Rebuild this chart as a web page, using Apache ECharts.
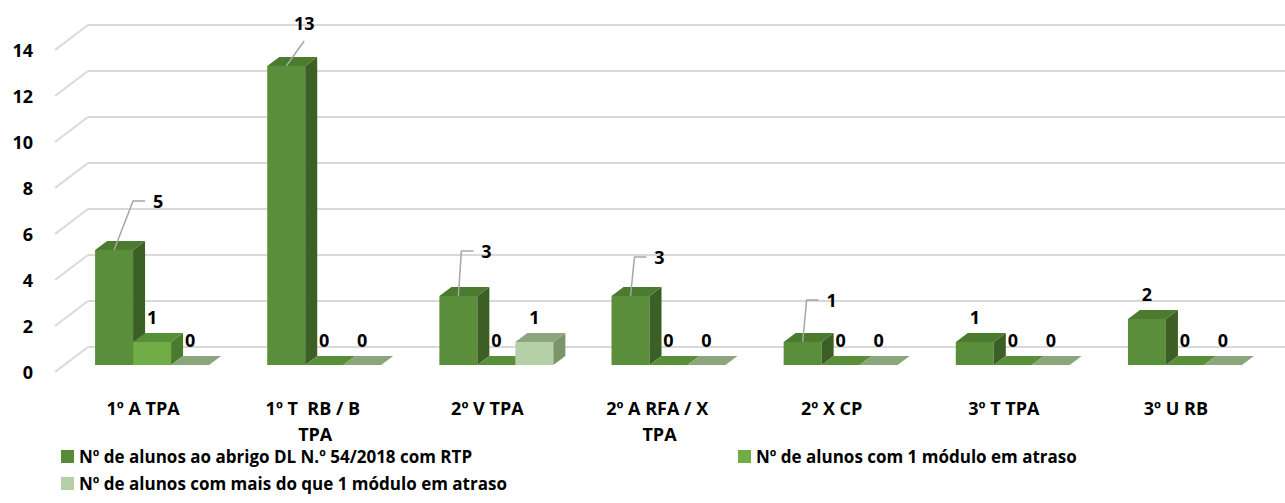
<!DOCTYPE html>
<html>
<head>
<meta charset="utf-8">
<script src="https://cdn.jsdelivr.net/npm/echarts@6/dist/echarts.min.js"></script>
<style>
  html, body { margin: 0; padding: 0; background: #fff; }
  #chart { width: 1285px; height: 503px; }
</style>
</head>
<body>
<div id="chart"></div>
<script>
const categories = ['1º A TPA', '1º T  RB / B TPA', '2º V TPA', '2º A RFA / X TPA', '2º X CP', '3º T TPA', '3º U RB'];
const rtpCounts = [5, 13, 3, 3, 1, 1, 2];
const oneModuleCounts = [1, 0, 0, 0, 0, 0, 0];
const moreModulesCounts = [0, 0, 1, 0, 0, 0, 0];
const yTicks = [0, 2, 4, 6, 8, 10, 12, 14];
const seriesNames = [
  'Nº de alunos ao abrigo DL N.º 54/2018 com RTP',
  'Nº de alunos com 1 módulo em atraso',
  'Nº de alunos com mais do que 1 módulo em atraso'
];

const FONT = '"Open Sans", Lato, sans-serif';
const faces = [
  { front: '#5b8e3a', side: '#3b5f24', top: '#4b7b2f', legend: '#578b38' },
  { front: '#70ad47', side: '#4a7a2e', top: '#5a8f3a', legend: '#70ad47' },
  { front: '#b5cfa6', side: '#7b9468', top: '#8ba67c', legend: '#b5cfa6' }
];
// labels that Excel pushed aside with a leader line (first series only)
const leaders = {
  0: { dx: 44, dy: -49, elbow: true },
  1: { dx: 18, dy: -43, elbow: false },
  2: { dx: 28, dy: -45, elbow: true },
  3: { dx: 29, dy: -39, elbow: true },
  4: { dx: 29, dy: -42, elbow: true }
};
const DX = 12, DY = -9;   // bar depth

const chart = echarts.init(document.getElementById('chart'), null, { renderer: 'svg' });

function barRenderer(si) {
  return function (params, api) {
    const cat = api.value(0), val = api.value(1);
    const top = api.coord([cat, val]);
    const base = api.coord([cat, 0]);
    const w = api.size([1, 0])[0] * 0.2207;
    const x0 = top[0] - 1.5 * w + si * w;
    const x1 = x0 + w;
    const yt = top[1], yb = base[1];
    const f = faces[si];
    const children = [];
    if (yb - yt > 0.5) {
      children.push({ type: 'rect', shape: { x: x0, y: yt, width: w, height: yb - yt }, style: { fill: f.front } });
      children.push({ type: 'polygon', shape: { points: [[x1, yt], [x1 + DX, yt + DY], [x1 + DX, yb + DY], [x1, yb]] }, style: { fill: f.side } });
    }
    children.push({ type: 'polygon', shape: { points: [[x0, yt], [x0 + DX, yt + DY], [x1 + DX, yt + DY], [x1, yt]] }, style: { fill: f.top } });

    const cx = x0 + w / 2;
    let lx = cx, ly = yt + DY - 16;
    const lead = si === 0 ? leaders[cat] : null;
    if (lead) {
      lx = cx + lead.dx;
      ly = yt + lead.dy;
      const pts = lead.elbow ? [[cx, yt], [lx - 25, ly], [lx - 13, ly]] : [[cx, yt], [lx, ly + 18]];
      children.push({ type: 'polyline', shape: { points: pts }, style: { stroke: '#a6a6a6', lineWidth: 1.5, fill: null } });
    }
    children.push({
      type: 'text', x: lx, y: ly,
      style: { text: String(val), fontFamily: FONT, fontWeight: 'bold', fontSize: 18, fill: '#000', align: 'center', verticalAlign: 'middle' }
    });
    return { type: 'group', children };
  };
}

const legendBase = {
  icon: 'rect', itemWidth: 13, itemHeight: 13, itemGap: 0, padding: 0,
  textStyle: { fontFamily: FONT, fontWeight: 'bold', fontSize: 17, color: '#000' }
};

const option = {
  animation: false,
  grid: [
    { left: 66, right: 14, top: 43, bottom: 138 },   // bar front plane
    { left: 88, right: 0, top: 25, bottom: 156 },    // back wall
    { left: 57, right: 23, top: 50, bottom: 131 }    // front plane (labels)
  ],
  xAxis: [
    { gridIndex: 0, type: 'category', data: categories, show: false },
    { gridIndex: 1, type: 'category', data: categories, show: false },
    {
      gridIndex: 2, type: 'category', data: categories,
      axisLine: { show: false }, axisTick: { show: false },
      axisLabel: {
        interval: 0, margin: 23, width: 140, overflow: 'break', lineHeight: 26,
        fontFamily: FONT, fontWeight: 'bold', fontSize: 18, color: '#000'
      }
    }
  ],
  yAxis: [
    { gridIndex: 0, type: 'value', min: 0, max: 14, interval: 2, show: false },
    {
      gridIndex: 1, type: 'value', min: 0, max: 14, interval: 2,
      axisLabel: { show: false }, axisLine: { show: false }, axisTick: { show: false },
      splitLine: { lineStyle: { color: '#d9d9d9', width: 2 } }
    },
    {
      gridIndex: 2, type: 'value', min: 0, max: 14, interval: 2,
      axisLine: { show: false }, axisTick: { show: false }, splitLine: { show: false },
      axisLabel: { margin: 24, fontFamily: FONT, fontWeight: 'bold', fontSize: 18, color: '#000' }
    }
  ],
  legend: [
    Object.assign({ data: [seriesNames[0]], left: 61, top: 448 }, legendBase),
    Object.assign({ data: [seriesNames[1]], left: 738, top: 448 }, legendBase),
    Object.assign({ data: [seriesNames[2]], left: 61, top: 475 }, legendBase)
  ],
  series: [
    {
      type: 'custom', xAxisIndex: 1, yAxisIndex: 1, silent: true,
      data: yTicks.map(v => [0, v]),
      renderItem(params, api) {
        const y = api.coord([0, api.value(1)])[1];
        const x = params.coordSys.x;
        return { type: 'line', shape: { x1: x - 33, y1: y + 25, x2: x, y2: y }, style: { stroke: '#d9d9d9', lineWidth: 2 } };
      }
    },
    {
      name: seriesNames[0], type: 'custom', xAxisIndex: 0, yAxisIndex: 0,
      itemStyle: { color: faces[0].legend },
      data: rtpCounts.map((v, i) => [i, v]), renderItem: barRenderer(0)
    },
    {
      name: seriesNames[1], type: 'custom', xAxisIndex: 0, yAxisIndex: 0,
      itemStyle: { color: faces[1].legend },
      data: oneModuleCounts.map((v, i) => [i, v]), renderItem: barRenderer(1)
    },
    {
      name: seriesNames[2], type: 'custom', xAxisIndex: 0, yAxisIndex: 0,
      itemStyle: { color: faces[2].legend },
      data: moreModulesCounts.map((v, i) => [i, v]), renderItem: barRenderer(2)
    }
  ]
};

chart.setOption(option);
</script>
</body>
</html>
